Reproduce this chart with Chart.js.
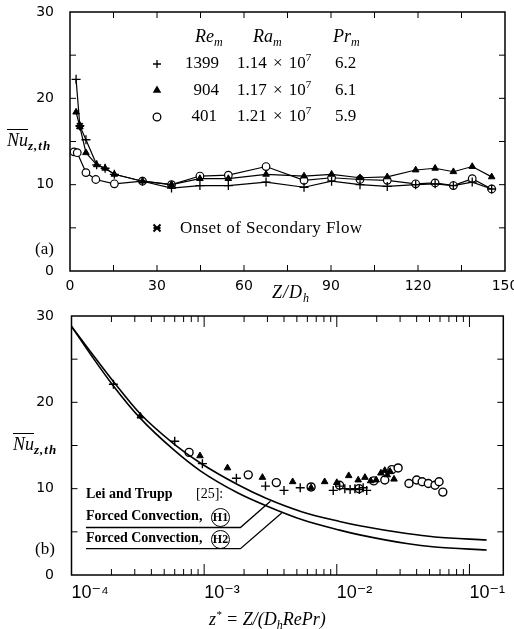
<!DOCTYPE html>
<html>
<head>
<meta charset="utf-8">
<script src="https://cdn.jsdelivr.net/npm/chart.js@4.4.1/dist/chart.umd.min.js"></script>
<style>
  body { margin: 0; background: #fff; width: 514px; height: 629px; position: relative; overflow: hidden; }
  canvas { position: absolute; left: 0; }
  .t { position: absolute; white-space: nowrap; line-height: 1; color: #000;
       font-family: "Liberation Serif", "DejaVu Serif", serif; font-size: 17px; }
  .it { font-style: italic; }
  .sp { font-size: 11px; position: relative; top: -7px; }
  .sb { font-size: 12px; position: relative; top: 4px; }
  .ov { text-decoration: overline; }
  .lt { font-size: 14px; font-weight: bold; }
  .ring { position: absolute; width: 17px; height: 17px; border: 1.5px solid #000; border-radius: 50%;
          font: bold 12px "Liberation Serif", serif; line-height: 17px; text-align: center; }
</style>
</head>
<body>
<canvas id="top" width="514" height="300" style="top:0"></canvas>
<canvas id="bot" width="514" height="329" style="top:300px"></canvas>

<!-- panel (a) texts -->
<div class="t it" style="left:7px;top:131px;font-size:18px"><span class="ov">Nu</span><span class="sb" style="font-size:13px;font-weight:bold;letter-spacing:1px">z,th</span></div>
<div class="t it" style="left:195px;top:27px;font-size:18px">Re<span class="sb">m</span></div>
<div class="t it" style="left:253px;top:27px;font-size:18px">Ra<span class="sb">m</span></div>
<div class="t it" style="left:333px;top:27px;font-size:18px">Pr<span class="sb">m</span></div>
<div class="t" style="right:295px;top:54px">1399</div>
<div class="t" style="right:295px;top:81px">904</div>
<div class="t" style="right:297px;top:107px">401</div>
<div class="t" style="left:237px;top:54px;word-spacing:2px">1.14 × 10<span class="sp">7</span></div>
<div class="t" style="left:237px;top:81px;word-spacing:2px">1.17 × 10<span class="sp">7</span></div>
<div class="t" style="left:237px;top:107px;word-spacing:2px">1.21 × 10<span class="sp">7</span></div>
<div class="t" style="left:335px;top:54px">6.2</div>
<div class="t" style="left:335px;top:81px">6.1</div>
<div class="t" style="left:335px;top:107px">5.9</div>
<div class="t" style="left:180px;top:219px;letter-spacing:0.4px">Onset of Secondary Flow</div>
<div class="t" style="left:35px;top:240px">(a)</div>
<div class="t it" style="left:272px;top:283px;font-size:18px;letter-spacing:1px">Z/D<span class="sb">h</span></div>

<!-- panel (b) texts -->
<div class="t it" style="left:13px;top:435px;font-size:18px"><span class="ov">Nu</span><span class="sb" style="font-size:13px;font-weight:bold;letter-spacing:1px">z,th</span></div>
<div class="t lt" style="left:86px;top:487px">Lei and Trupp</div>
<div class="t lt" style="left:196px;top:487px;font-weight:normal">[25]:</div>
<div class="t lt" style="left:86px;top:509px">Forced Convection,</div>
<div class="ring" style="left:211px;top:508px">H1</div>
<div class="t lt" style="left:86px;top:531px">Forced Convection,</div>
<div class="ring" style="left:211px;top:530px">H2</div>
<div class="t" style="left:35px;top:540px">(b)</div>
<div class="t it" style="left:209px;top:610px;font-size:18px"><span>z</span><span class="sp">*</span> = Z/(D<span class="sb">h</span>RePr)</div>

<script>
// ---------- panel (a): Nu vs Z/Dh ----------
const zdh1399 = [2.1, 3.4, 5.5, 9.2, 12.1, 15.3, 25, 35, 44.8, 54.6, 67.6, 80.7, 90.2, 100, 109.4, 119.2, 125.9, 132.2, 138.7, 145.4];
const nu1399  = [22.2, 16.8, 15.2, 12.3, 11.9, 11.2, 10.4, 9.6, 9.9, 9.9, 10.3, 9.7, 10.4, 10.0, 9.8, 10.0, 10.1, 9.9, 10.3, 9.5];
const zdh904  = [2.1, 3.4, 5.5, 9.2, 12.1, 15.3, 25, 35, 44.8, 54.6, 67.6, 80.7, 90.2, 100, 109.4, 119.2, 125.9, 132.2, 138.7, 145.4];
const nu904   = [18.4, 16.7, 13.7, 12.3, 11.9, 11.2, 10.4, 10.0, 10.7, 10.7, 11.2, 11.0, 11.2, 10.8, 10.9, 11.7, 11.9, 11.5, 12.1, 10.9];
const zdh401  = [1.4, 2.5, 5.5, 8.9, 15.3, 25, 35, 44.8, 54.6, 67.6, 80.7, 90.2, 100, 109.4, 119.2, 125.9, 132.2, 138.7, 145.4];
const nu401   = [13.8, 13.7, 11.4, 10.6, 10.1, 10.4, 10.0, 11.0, 11.1, 12.1, 10.5, 10.8, 10.6, 10.5, 10.1, 10.2, 9.9, 10.7, 9.5];
const onsetZdh = [3.4];
const onsetNu  = [16.8];

// ---------- panel (b): Nu vs z* ----------
const zCurve = [1e-4, 1.4e-4, 2.07e-4, 3.28e-4, 6e-4, 9.3e-4, 1.8e-3, 2.96e-3, 5.5e-3, 1.05e-2, 1.49e-2, 3.36e-2, 5.5e-2, 0.135];
const nuH1   = [28.8, 25.8, 22.4, 18.7, 15.1, 13.0, 10.45, 8.85, 7.3, 6.2, 5.7, 4.8, 4.4, 4.05];
const nuH2   = [28.8, 25.5, 21.9, 18.2, 14.4, 12.1, 9.5, 8.0, 6.4, 5.2, 4.65, 3.65, 3.25, 2.9];

const zPlus  = [2.07e-4, 6.0e-4, 9.7e-4, 1.75e-3, 2.9e-3, 4.0e-3, 5.3e-3, 9.4e-3, 1.05e-2, 1.15e-2, 1.26e-2, 1.37e-2, 1.48e-2, 1.58e-2, 1.68e-2];
const nuPlus = [22.1, 15.5, 12.9, 11.2, 10.3, 9.8, 10.1, 9.8, 10.3, 10.0, 9.9, 10.0, 9.9, 10.1, 9.8];
const zTri   = [3.3e-4, 9.3e-4, 1.5e-3, 2.75e-3, 4.65e-3, 6.4e-3, 8.1e-3, 1.0e-2, 1.23e-2, 1.45e-2, 1.63e-2, 1.8e-2, 1.98e-2, 2.15e-2, 2.3e-2, 2.4e-2, 2.52e-2, 2.7e-2];
const nuTri  = [18.4, 13.8, 12.4, 11.3, 10.8, 10.1, 10.8, 10.7, 11.5, 11.0, 11.3, 10.9, 11.0, 11.8, 12.1, 11.6, 12.0, 11.1];
const zCirc  = [7.7e-4, 2.15e-3, 3.5e-3, 6.4e-3, 1.05e-2, 1.47e-2, 1.9e-2, 2.3e-2, 2.6e-2, 2.9e-2, 3.5e-2, 4.0e-2, 4.4e-2, 4.9e-2, 5.5e-2, 5.9e-2, 6.3e-2];
const nuCirc = [14.2, 11.6, 10.7, 10.2, 10.4, 10.0, 10.9, 11.0, 12.2, 12.4, 10.6, 11.0, 10.8, 10.6, 10.4, 10.8, 9.6];

// leader lines from the Lei and Trupp labels to the curves
const leadH1z = [1.285e-4, 1.877e-3, 3.16e-3];
const leadH1nu = [5.5, 5.5, 8.55];
const leadH2z = [1.285e-4, 1.877e-3, 3.84e-3];
const leadH2nu = [3.05, 3.05, 7.18];

// tick labels
const zdhLabels = [0, 30, 60, 90, 120, 150];
const nuLabels = [0, 10, 20, 30];
const decadeLabels = { '-4': '10⁻⁴', '-3': '10⁻³', '-2': '10⁻²', '-1': '10⁻¹' };

function pts(xs, ys) {
    return xs.map((x, i) => ({ x: x, y: ys[i] }));
}

// frame with inward ticks on all four sides
const frameTicks = {
    id: 'frameTicks',
    afterDraw(chart, args, opts) {
        const ctx = chart.ctx;
        const a = chart.chartArea;
        const sx = chart.scales.x, sy = chart.scales.y;
        ctx.save();
        ctx.strokeStyle = '#000';
        ctx.lineWidth = 1.5;
        ctx.strokeRect(a.left, a.top, a.right - a.left, a.bottom - a.top);
        ctx.lineWidth = 1;
        ctx.beginPath();
        sx.ticks.forEach(t => {
            const p = sx.getPixelForValue(t.value);
            if (p <= a.left + 1 || p >= a.right - 1) return;
            let len = opts.tick;
            if (opts.log) {
                const l = Math.log10(t.value);
                if (Math.abs(l - Math.round(l)) < 1e-9) len = opts.major;
            }
            ctx.moveTo(p, a.bottom); ctx.lineTo(p, a.bottom - len);
            ctx.moveTo(p, a.top); ctx.lineTo(p, a.top + len);
        });
        sy.ticks.forEach(t => {
            const p = sy.getPixelForValue(t.value);
            if (p <= a.top + 1 || p >= a.bottom - 1) return;
            ctx.moveTo(a.left, p); ctx.lineTo(a.left + opts.tick, p);
            ctx.moveTo(a.right, p); ctx.lineTo(a.right - opts.tick, p);
        });
        ctx.stroke();
        ctx.restore();
    }
};

function drawMark(ctx, kind, x, y, r) {
    ctx.save();
    ctx.strokeStyle = '#000';
    ctx.fillStyle = '#000';
    ctx.lineWidth = 1.3;
    ctx.beginPath();
    if (kind === 'cross') {
        ctx.moveTo(x - r, y); ctx.lineTo(x + r, y);
        ctx.moveTo(x, y - r); ctx.lineTo(x, y + r);
        ctx.stroke();
    } else if (kind === 'triangle') {
        ctx.moveTo(x, y - r); ctx.lineTo(x + r * 0.95, y + r * 0.6); ctx.lineTo(x - r * 0.95, y + r * 0.6);
        ctx.closePath(); ctx.fill();
    } else if (kind === 'circle') {
        ctx.arc(x, y, r * 0.85, 0, Math.PI * 2);
        ctx.stroke();
    } else if (kind === 'star') {
        ctx.lineWidth = 2;
        ctx.moveTo(x - r, y - r); ctx.lineTo(x + r, y + r);
        ctx.moveTo(x + r, y - r); ctx.lineTo(x - r, y + r);
        ctx.moveTo(x - r, y); ctx.lineTo(x + r, y);
        ctx.stroke();
    }
    ctx.restore();
}

// legend symbols of panel (a)
const legendMarks = {
    id: 'legendMarks',
    afterDraw(chart) {
        const ctx = chart.ctx;
        drawMark(ctx, 'cross', 157, 64, 4);
        drawMark(ctx, 'triangle', 157, 90, 4.5);
        drawMark(ctx, 'circle', 157, 117, 4.5);
        drawMark(ctx, 'star', 157, 228, 3.5);
    }
};

const tickFont = { family: 'DejaVu Sans', size: 14, lineHeight: 1 };
const black = '#000';

new Chart(document.getElementById('top'), {
    type: 'scatter',
    data: {
        datasets: [
            { data: pts(zdh1399, nu1399), showLine: true, borderColor: black, borderWidth: 1.2,
              pointStyle: 'cross', pointRadius: 4.5, pointBorderWidth: 1.3, pointBorderColor: black },
            { data: pts(zdh904, nu904), showLine: true, borderColor: black, borderWidth: 1.2,
              pointStyle: 'triangle', pointRadius: 3.8, pointBorderWidth: 1, pointBorderColor: black, pointBackgroundColor: black },
            { data: pts(zdh401, nu401), showLine: true, borderColor: black, borderWidth: 1.2,
              pointStyle: 'circle', pointRadius: 3.8, pointBorderWidth: 1.2, pointBorderColor: black, pointBackgroundColor: '#fff' },
            { data: pts(onsetZdh, onsetNu), showLine: false,
              pointStyle: 'star', pointRadius: 4, pointBorderWidth: 2, pointBorderColor: black }
        ]
    },
    options: {
        responsive: false,
        animation: false,
        devicePixelRatio: 1,
        events: [],
        layout: { padding: { top: 12, right: 9, left: 0, bottom: 0 } },
        plugins: {
            legend: { display: false },
            tooltip: { enabled: false },
            frameTicks: { tick: 6, major: 6, log: false }
        },
        scales: {
            x: {
                type: 'linear', min: 0, max: 150,
                grid: { display: false }, border: { display: false },
                ticks: { stepSize: 15, autoSkip: false, maxRotation: 0, padding: 0, color: black, font: tickFont,
                         callback: v => zdhLabels.includes(v) ? String(v) : '' },
                afterFit: s => { s.height = 29; s.paddingLeft = 0; s.paddingRight = 0; }
            },
            y: {
                type: 'linear', min: 0, max: 30,
                grid: { display: false }, border: { display: false },
                ticks: { stepSize: 5, autoSkip: false, padding: 8, color: black, font: tickFont,
                         callback: v => nuLabels.includes(v) ? String(v) : '' },
                afterFit: s => { s.width = 70; s.paddingTop = 0; s.paddingBottom = 0; }
            }
        }
    },
    plugins: [frameTicks, legendMarks]
});

new Chart(document.getElementById('bot'), {
    type: 'scatter',
    data: {
        datasets: [
            { data: pts(zCurve, nuH1), showLine: true, borderColor: black, borderWidth: 1.6,
              pointRadius: 0, cubicInterpolationMode: 'monotone' },
            { data: pts(zCurve, nuH2), showLine: true, borderColor: black, borderWidth: 1.6,
              pointRadius: 0, cubicInterpolationMode: 'monotone' },
            { data: pts(leadH1z, leadH1nu), showLine: true, borderColor: black, borderWidth: 1.3, pointRadius: 0 },
            { data: pts(leadH2z, leadH2nu), showLine: true, borderColor: black, borderWidth: 1.3, pointRadius: 0 },
            { data: pts(zPlus, nuPlus), pointStyle: 'cross', pointRadius: 4.5, pointBorderWidth: 1.4, pointBorderColor: black },
            { data: pts(zTri, nuTri), pointStyle: 'triangle', pointRadius: 3.8, pointBorderWidth: 1,
              pointBorderColor: black, pointBackgroundColor: black },
            { data: pts(zCirc, nuCirc), pointStyle: 'circle', pointRadius: 4, pointBorderWidth: 1.4,
              pointBorderColor: black, pointBackgroundColor: '#fff' }
        ]
    },
    options: {
        responsive: false,
        animation: false,
        devicePixelRatio: 1,
        events: [],
        layout: { padding: { top: 16, right: 10.7, left: 0, bottom: 0 } },
        plugins: {
            legend: { display: false },
            tooltip: { enabled: false },
            frameTicks: { tick: 6, major: 11, log: true }
        },
        scales: {
            x: {
                type: 'logarithmic', min: 1e-4, max: 0.18,
                grid: { display: false }, border: { display: false },
                afterBuildTicks: s => {
                    const list = [];
                    for (let e = -4; e <= -1; e++) {
                        for (let m = 1; m <= 9; m++) {
                            const v = m * Math.pow(10, e);
                            if (v <= 0.18) list.push({ value: v });
                        }
                    }
                    s.ticks = list;
                },
                ticks: { autoSkip: false, maxRotation: 0, padding: 1, align: 'start', color: black,
                         font: { family: 'Liberation Sans, DejaVu Sans', size: 18, lineHeight: 1 },
                         callback: v => {
                             const l = Math.log10(v);
                             return Math.abs(l - Math.round(l)) < 1e-9 ? (decadeLabels[Math.round(l)] || '') : '';
                         } },
                afterFit: s => { s.height = 54; s.paddingLeft = 0; s.paddingRight = 0; }
            },
            y: {
                type: 'linear', min: 0, max: 30,
                grid: { display: false }, border: { display: false },
                ticks: { stepSize: 5, autoSkip: false, padding: 9.5, color: black, font: tickFont,
                         callback: v => nuLabels.includes(v) ? String(v) : '' },
                afterFit: s => { s.width = 71.5; s.paddingTop = 0; s.paddingBottom = 0; }
            }
        }
    },
    plugins: [frameTicks]
});
</script>
</body>
</html>
